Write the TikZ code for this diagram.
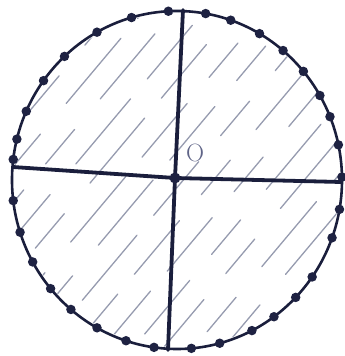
\documentclass[tikz,border=0pt]{standalone}
\usepackage{fix-cm}
\usetikzlibrary{calc}
\begin{document}
\begin{tikzpicture}[x=1pt,y=1pt,
  ink/.style={draw={rgb,255:red,26;green,30;blue,60}},
  rim/.style={ink, line width=2.6pt},
  diam/.style={ink, line width=3.8pt, line cap=round},
  hatch/.style={draw={rgb,255:red,150;green,155;blue,175}, line width=1.3pt, line cap=round},
  bead/.style={circle, inner sep=0pt, minimum size=9.5pt, fill={rgb,255:red,30;green,34;blue,66}},
  lbl/.style={text={rgb,255:red,95;green,100;blue,135}, font=\fontsize{25}{25}\selectfont}]
\useasboundingbox (0,0) rectangle (345,356);
\coordinate (C) at (177,176);
% hatching
\begin{scope}
  \clip (C) ellipse [x radius=163, y radius=167];
  \foreach \b/\d in {-324/0,-288/37,-252/14,-216/51,-180/22,-144/44,-108/9,-72/60,-36/30,0/5,36/48,72/18,108/40,144/2,180/55,216/26,252/12} {
    \draw[hatch, dash pattern=on 70pt off 34pt on 45pt off 40pt on 85pt off 26pt, dash phase=\d pt]
      (-20,-30+\b) -- (380,446+\b);
  }
\end{scope}
% rim
\draw[rim] (C) ellipse [x radius=165, y radius=169];
% diameters
\coordinate (L) at (13,189);
\coordinate (R) at (341,174);
\coordinate (T) at (183,346);
\coordinate (B) at (168,6);
\coordinate (O) at (175,178);
\draw[diam] (L) -- (O) -- (R);
\draw[diam] (T) -- (O) -- (B);
\node[bead, minimum size=11pt] (Od) at (O) {};
% beads on rim
\foreach \a [count=\i] in {106,93,80,71,60,50,40,30,22,12,1,-10,-20,-35,-44,-54,-63,-75,-85,-98,-108,-119,-130,-140,-151,-162,-173,173,166,156,144,133,119} {
  \node[bead] (d\i) at ($(C)+(\a:165 and 169)$) {};
}
\node[lbl] (lab) at (195,203) {O};
\end{tikzpicture}
\end{document}
